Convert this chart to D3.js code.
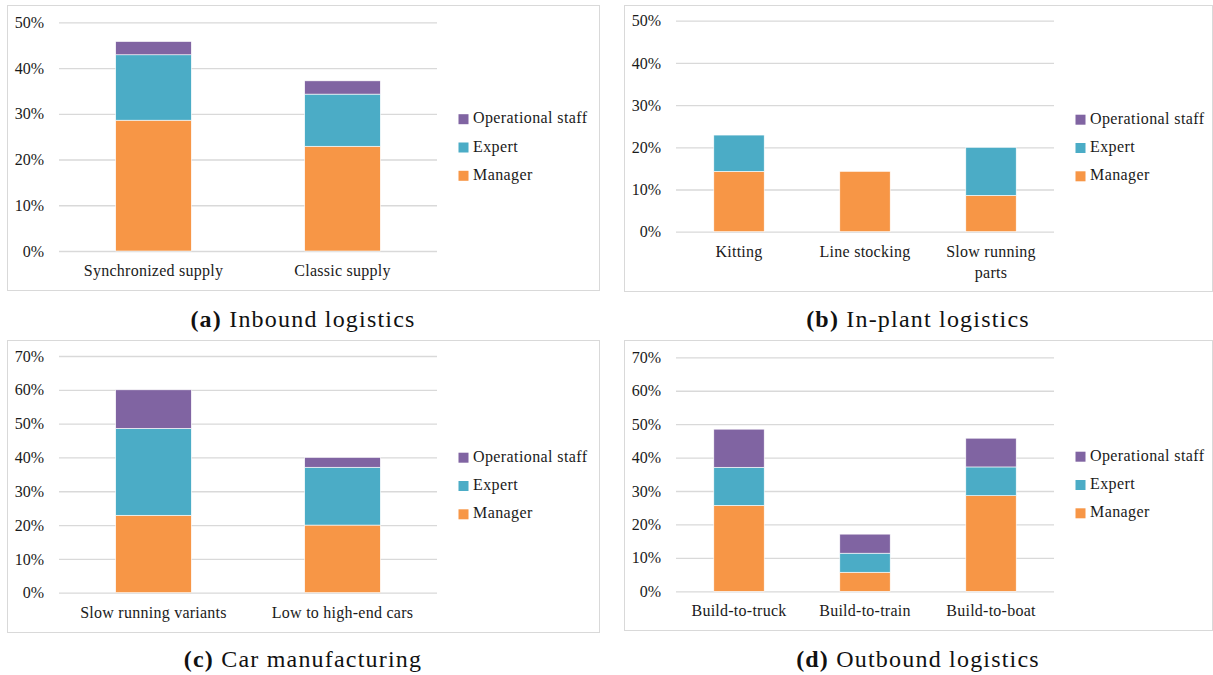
<!DOCTYPE html>
<html>
<head>
<meta charset="utf-8">
<script src="https://cdn.jsdelivr.net/npm/d3@7"></script>
<style>
  body { margin: 0; background: #fff; }
</style>
</head>
<body>
<svg width="1213" height="675"></svg>
<script>
const SERIES = ['Manager', 'Expert', 'Operational staff'];
const COLORS = ['#F79646', '#4BACC6', '#8064A2'];
const FONT = '"Liberation Serif", "Times New Roman", serif';

// (a) Inbound logistics
const inboundCategories = ['Synchronized supply', 'Classic supply'];
const inboundManager = [28.6, 22.9];
const inboundExpert = [14.3, 11.4];
const inboundOperational = [2.9, 2.9];
const inboundTicks = [0, 10, 20, 30, 40, 50];

// (b) In-plant logistics
const inplantCategories = ['Kitting', 'Line stocking', 'Slow running parts'];
const inplantManager = [14.3, 14.3, 8.6];
const inplantExpert = [8.6, 0, 11.4];
const inplantOperational = [0, 0, 0];
const inplantTicks = [0, 10, 20, 30, 40, 50];

// (c) Car manufacturing
const carCategories = ['Slow running variants', 'Low to high-end cars'];
const carManager = [22.9, 20.0];
const carExpert = [25.7, 17.1];
const carOperational = [11.4, 2.9];
const carTicks = [0, 10, 20, 30, 40, 50, 60, 70];

// (d) Outbound logistics
const outboundCategories = ['Build-to-truck', 'Build-to-train', 'Build-to-boat'];
const outboundManager = [25.7, 5.7, 28.6];
const outboundExpert = [11.4, 5.7, 8.6];
const outboundOperational = [11.4, 5.7, 8.6];
const outboundTicks = [0, 10, 20, 30, 40, 50, 60, 70];

const captionTags = ['(a)', '(b)', '(c)', '(d)'];
const captionTitles = ['Inbound logistics', 'In-plant logistics', 'Car manufacturing', 'Outbound logistics'];

const svg = d3.select("svg");

// frame box, plot area and caption position for each panel
const panels = [
  { cats: inboundCategories, vals: [inboundManager, inboundExpert, inboundOperational], ticks: inboundTicks,
    box: [7, 5, 592, 285], plot: [59, 22.3, 437, 251], captionY: 327 },
  { cats: inplantCategories, vals: [inplantManager, inplantExpert, inplantOperational], ticks: inplantTicks,
    box: [624, 5, 588, 286], plot: [676, 20.7, 1054, 231.7], captionY: 327 },
  { cats: carCategories, vals: [carManager, carExpert, carOperational], ticks: carTicks,
    box: [7, 340, 592, 292], plot: [59, 356, 437, 592.7], captionY: 667 },
  { cats: outboundCategories, vals: [outboundManager, outboundExpert, outboundOperational], ticks: outboundTicks,
    box: [624, 340, 588, 290], plot: [676, 357.3, 1054, 591.3], captionY: 667 }
];

function wrap(textSel, maxW) {
  textSel.each(function() {
    const t = d3.select(this);
    const words = t.text().split(/\s+/);
    const x = t.attr("x");
    t.text(null);
    let line = [];
    let tspan = t.append("tspan").attr("x", x).attr("dy", 0);
    words.forEach(w => {
      line.push(w);
      tspan.text(line.join(" "));
      if (tspan.node().getComputedTextLength() > maxW && line.length > 1) {
        line.pop();
        tspan.text(line.join(" "));
        line = [w];
        tspan = t.append("tspan").attr("x", x).attr("dy", 21).text(w);
      }
    });
  });
}

panels.forEach((p, pi) => {
  const [bx, by, bw, bh] = p.box;
  const [left, top, right, bottom] = p.plot;
  const g = svg.append("g");

  g.append("rect")
    .attr("x", bx + 0.5).attr("y", by + 0.5)
    .attr("width", bw).attr("height", bh)
    .attr("fill", "#fff")
    .attr("stroke", "#d9d9d9").attr("stroke-width", 1);

  const yMax = d3.max(p.ticks);
  const y = d3.scaleLinear().domain([0, yMax]).range([bottom, top]);
  const x = d3.scaleBand().domain(p.cats).range([left, right]).paddingInner(0.6).paddingOuter(0.3);

  // gridlines + tick labels
  const yAxis = g.append("g")
    .attr("transform", `translate(${left},0)`)
    .call(d3.axisLeft(y).tickValues(p.ticks).tickSize(-(right - left)).tickPadding(15).tickFormat(d => d + "%"));
  yAxis.select(".domain").remove();
  yAxis.selectAll(".tick line").attr("stroke", "#d9d9d9").attr("stroke-width", 1.3);
  yAxis.selectAll(".tick text")
    .style("font-family", FONT).style("font-size", "16px").attr("fill", "#1a1a1a");

  // stacked bars
  const rows = p.cats.map((c, i) => {
    const r = { cat: c };
    SERIES.forEach((s, si) => { r[s] = p.vals[si][i]; });
    return r;
  });
  const stacked = d3.stack().keys(SERIES)(rows);
  g.selectAll(".layer")
    .data(stacked)
    .enter().append("g")
    .attr("fill", (d, i) => COLORS[i])
    .selectAll("rect")
    .data(d => d.filter(v => v[1] - v[0] > 0))
    .enter().append("rect")
    .attr("x", d => x(d.data.cat))
    .attr("y", d => y(d[1]))
    .attr("width", x.bandwidth())
    .attr("height", d => y(d[0]) - y(d[1]))
    .attr("stroke", "#fff")
    .attr("stroke-width", 0.6);

  // category labels
  g.selectAll(".cat")
    .data(p.cats)
    .enter().append("text")
    .attr("x", d => x(d) + x.bandwidth() / 2)
    .attr("y", bottom + 25)
    .attr("text-anchor", "middle")
    .attr("fill", "#1a1a1a")
    .style("font-family", FONT).style("font-size", "16px").style("letter-spacing", "0.25px")
    .text(d => d)
    .call(wrap, x.step() * 0.85);

  // legend
  const legendMid = by + bh / 2 - 1.5;
  const order = [2, 1, 0];
  order.forEach((si, k) => {
    const ly = legendMid + (k - 1) * 28.3;
    g.append("rect")
      .attr("x", right + 21.5).attr("y", ly - 3.5)
      .attr("width", 10).attr("height", 10)
      .attr("fill", COLORS[si]);
    g.append("text")
      .attr("x", right + 36).attr("y", ly + 5.5)
      .attr("fill", "#1a1a1a")
      .style("font-family", FONT).style("font-size", "16px").style("letter-spacing", "0.4px")
      .text(SERIES[si]);
  });

  // caption
  const cap = svg.append("text")
    .attr("x", bx + bw / 2)
    .attr("y", p.captionY)
    .attr("text-anchor", "middle")
    .attr("fill", "#111")
    .style("font-family", FONT).style("font-size", "24px").style("letter-spacing", "1.2px");
  cap.append("tspan").attr("font-weight", "bold").text(captionTags[pi]);
  cap.append("tspan").text(" " + captionTitles[pi]);
});
</script>
</body>
</html>
